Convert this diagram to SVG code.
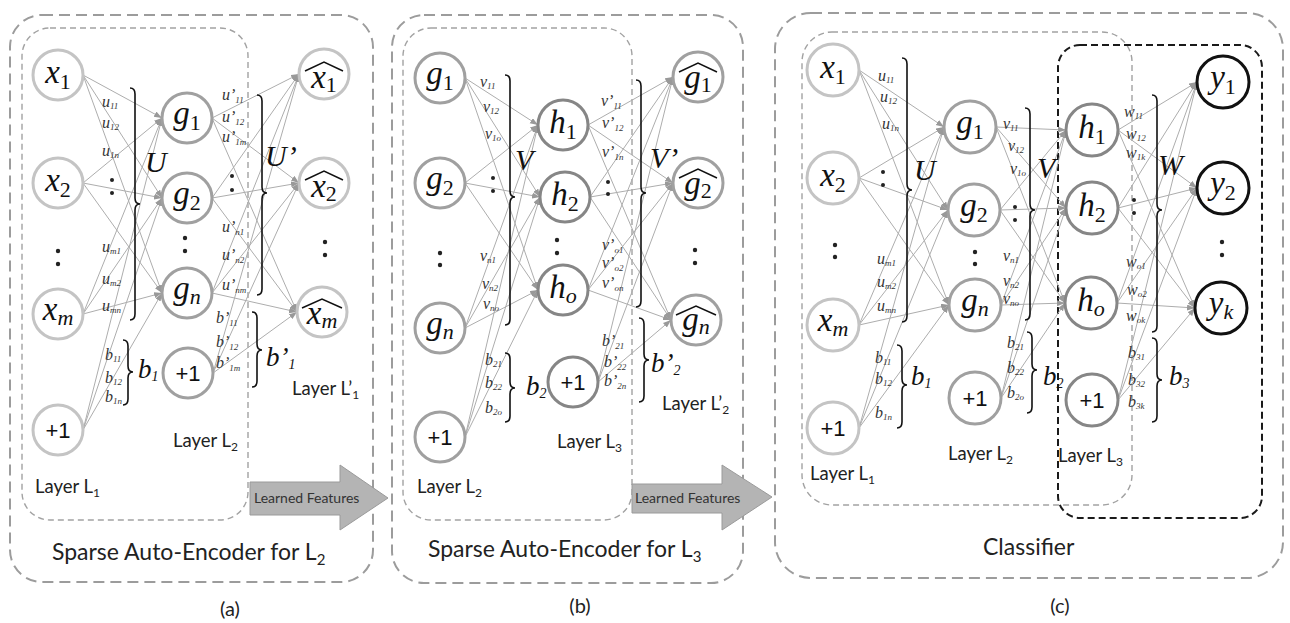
<svg xmlns="http://www.w3.org/2000/svg" width="1290" height="623" viewBox="0 0 1290 623">
<style>
  .ob{fill:none;stroke:#9c9c9c;stroke-width:2;stroke-dasharray:11 6}
  .ib{fill:none;stroke:#a2a2a2;stroke-width:1.4;stroke-dasharray:6 4}
  .kb{fill:none;stroke:#1a1a1a;stroke-width:2;stroke-dasharray:7 4}
  .e line{stroke:#adadad;stroke-width:1;marker-end:url(#ah)}
  circle.n1{fill:#fff;stroke:#c4c4c4;stroke-width:3}
  circle.n2{fill:#fff;stroke:#a0a0a0;stroke-width:3}
  circle.n3{fill:#fff;stroke:#868686;stroke-width:3}
  circle.n4{fill:#fff;stroke:#111;stroke-width:3}
  .nl{font-family:"Liberation Serif",serif;font-style:italic;font-size:33px;fill:#111;text-anchor:middle}
  .nl .s{font-style:normal;font-size:22px}
  .nl .t{font-size:22px}
  .one{font-family:"Liberation Sans",Arial,sans-serif;font-size:22px;fill:#111;text-anchor:middle}
  .w{font-family:"Liberation Serif",serif;font-style:italic;font-size:16px;fill:#333}
  .w .s{font-size:9px}
  .big{font-family:"Liberation Serif",serif;font-style:italic;font-size:30px;fill:#111}
  .bb{font-family:"Liberation Serif",serif;font-style:italic;font-size:27px;fill:#111}
  .bb .s{font-size:14px}
  .ly{font-family:Lato,"Liberation Sans",sans-serif;font-size:18.5px;fill:#222}
  .ly .s{font-size:12px}
  .cap{font-family:Lato,"Liberation Sans",sans-serif;font-size:23px;fill:#222}
  .cap .s{font-size:15px}
  .pl{font-family:Lato,"Liberation Sans",sans-serif;font-size:20px;fill:#222;text-anchor:middle}
  .lf{font-family:Lato,"Liberation Sans",sans-serif;font-size:14px;fill:#333}
  .arr{fill:#b4b4b4;stroke:#9a9a9a;stroke-width:1}
  .dot{fill:#222}
  .br{fill:none;stroke:#111;stroke-width:1.6}
  .hat{fill:none;stroke:#111;stroke-width:1.5}
</style>
<defs>
  <marker id="ah" markerUnits="userSpaceOnUse" markerWidth="9" markerHeight="7" refX="8" refY="3" orient="auto">
    <path d="M0,0 L8,3 L0,6 z" fill="#999"/>
  </marker>
</defs>

<!-- dashed frames -->
<g id="frames">
  <rect class="ob" x="10" y="15" width="363" height="567" rx="32"/>
  <rect class="ib" x="22" y="28" width="226" height="492" rx="28"/>
  <rect class="ob" x="392" y="15" width="351" height="568" rx="32"/>
  <rect class="ib" x="403" y="28" width="229" height="492" rx="28"/>
  <rect class="ob" x="775" y="13" width="508" height="565" rx="36"/>
  <rect class="ib" x="802" y="32" width="330" height="473" rx="30"/>
  <rect class="kb" x="1058" y="45" width="204" height="473" rx="22"/>
</g>

<!-- connectors -->
<g id="connectors" class="e">
  <!-- (a) L1 -> L2 -->
  <line x1="83" y1="75" x2="162" y2="118"/><line x1="83" y1="75" x2="162" y2="198"/><line x1="83" y1="75" x2="162" y2="293"/>
  <line x1="83" y1="183" x2="162" y2="118"/><line x1="83" y1="183" x2="162" y2="198"/><line x1="83" y1="183" x2="162" y2="293"/>
  <line x1="83" y1="314" x2="162" y2="118"/><line x1="83" y1="314" x2="162" y2="198"/><line x1="83" y1="314" x2="162" y2="293"/>
  <line x1="83" y1="430" x2="162" y2="118"/><line x1="83" y1="430" x2="162" y2="198"/><line x1="83" y1="430" x2="162" y2="293"/>
  <!-- (a) L2 -> L'1 -->
  <line x1="212" y1="118" x2="299" y2="74"/><line x1="212" y1="118" x2="299" y2="183"/><line x1="212" y1="118" x2="297" y2="312"/>
  <line x1="212" y1="198" x2="299" y2="74"/><line x1="212" y1="198" x2="299" y2="183"/><line x1="212" y1="198" x2="297" y2="312"/>
  <line x1="212" y1="293" x2="299" y2="74"/><line x1="212" y1="293" x2="299" y2="183"/><line x1="212" y1="293" x2="297" y2="312"/>
  <line x1="213" y1="373" x2="299" y2="74"/><line x1="213" y1="373" x2="299" y2="183"/><line x1="213" y1="373" x2="297" y2="312"/>
  <!-- (b) L2 -> L3 -->
  <line x1="465" y1="78" x2="538" y2="125"/><line x1="465" y1="78" x2="540" y2="197"/><line x1="465" y1="78" x2="538" y2="290"/>
  <line x1="465" y1="183" x2="538" y2="125"/><line x1="465" y1="183" x2="540" y2="197"/><line x1="465" y1="183" x2="538" y2="290"/>
  <line x1="465" y1="328" x2="538" y2="125"/><line x1="465" y1="328" x2="540" y2="197"/><line x1="465" y1="328" x2="538" y2="290"/>
  <line x1="465" y1="437" x2="538" y2="125"/><line x1="465" y1="437" x2="540" y2="197"/><line x1="465" y1="437" x2="538" y2="290"/>
  <!-- (b) L3 -> L'2 -->
  <line x1="588" y1="125" x2="673" y2="77"/><line x1="588" y1="125" x2="673" y2="183"/><line x1="588" y1="125" x2="671" y2="320"/>
  <line x1="590" y1="197" x2="673" y2="77"/><line x1="590" y1="197" x2="673" y2="183"/><line x1="590" y1="197" x2="671" y2="320"/>
  <line x1="588" y1="290" x2="673" y2="77"/><line x1="588" y1="290" x2="673" y2="183"/><line x1="588" y1="290" x2="671" y2="320"/>
  <line x1="598" y1="382" x2="673" y2="77"/><line x1="598" y1="382" x2="673" y2="183"/><line x1="598" y1="382" x2="671" y2="320"/>
  <!-- (c) L1 -> L2 -->
  <line x1="859" y1="70" x2="944" y2="127"/><line x1="859" y1="70" x2="948" y2="210"/><line x1="859" y1="70" x2="949" y2="305"/>
  <line x1="859" y1="178" x2="944" y2="127"/><line x1="859" y1="178" x2="948" y2="210"/><line x1="859" y1="178" x2="949" y2="305"/>
  <line x1="859" y1="325" x2="944" y2="127"/><line x1="859" y1="325" x2="948" y2="210"/><line x1="859" y1="325" x2="949" y2="305"/>
  <line x1="859" y1="428" x2="944" y2="127"/><line x1="859" y1="428" x2="948" y2="210"/><line x1="859" y1="428" x2="949" y2="305"/>
  <!-- (c) L2 -> L3 -->
  <line x1="996" y1="127" x2="1066" y2="130"/><line x1="996" y1="127" x2="1066" y2="208"/><line x1="996" y1="127" x2="1065" y2="303"/>
  <line x1="1000" y1="210" x2="1066" y2="130"/><line x1="1000" y1="210" x2="1066" y2="208"/><line x1="1000" y1="210" x2="1065" y2="303"/>
  <line x1="1001" y1="305" x2="1066" y2="130"/><line x1="1001" y1="305" x2="1066" y2="208"/><line x1="1001" y1="305" x2="1065" y2="303"/>
  <line x1="1001" y1="398" x2="1066" y2="130"/><line x1="1001" y1="398" x2="1066" y2="208"/><line x1="1001" y1="398" x2="1065" y2="303"/>
  <!-- (c) L3 -> output -->
  <line x1="1118" y1="130" x2="1197" y2="82"/><line x1="1118" y1="130" x2="1197" y2="188"/><line x1="1118" y1="130" x2="1195" y2="308"/>
  <line x1="1118" y1="208" x2="1197" y2="82"/><line x1="1118" y1="208" x2="1197" y2="188"/><line x1="1118" y1="208" x2="1195" y2="308"/>
  <line x1="1117" y1="303" x2="1197" y2="82"/><line x1="1117" y1="303" x2="1197" y2="188"/><line x1="1117" y1="303" x2="1195" y2="308"/>
  <line x1="1118" y1="400" x2="1197" y2="82"/><line x1="1118" y1="400" x2="1197" y2="188"/><line x1="1118" y1="400" x2="1195" y2="308"/>
</g>

<!-- learned-feature arrows -->
<g id="arrow-a">
  <polygon class="arr" points="250,482 340,482 340,465 388,498 340,530 340,515 250,515"/>
  <text class="lf" x="254" y="503">Learned Features</text>
</g>
<g id="arrow-b">
  <polygon class="arr" points="632,484 722,484 722,465 772,497 722,530 722,513 632,513"/>
  <text class="lf" x="635" y="503">Learned Features</text>
</g>

<!-- panel (a) nodes -->
<g id="a-x1"><circle class="n1" cx="58" cy="75" r="25"/><text class="nl" x="58" y="83">x<tspan class="s" dy="6">1</tspan></text></g>
<g id="a-x2"><circle class="n1" cx="58" cy="183" r="25"/><text class="nl" x="58" y="191">x<tspan class="s" dy="6">2</tspan></text></g>
<g id="a-xm"><circle class="n1" cx="58" cy="314" r="25"/><text class="nl" x="58" y="320">x<tspan class="t" dy="5">m</tspan></text></g>
<g id="a-b1"><circle class="n1" cx="58" cy="430" r="25"/><text class="one" x="58" y="438">+1</text></g>
<g id="a-g1"><circle class="n2" cx="187" cy="118" r="25"/><text class="nl" x="187" y="124">g<tspan class="s" dy="6">1</tspan></text></g>
<g id="a-g2"><circle class="n2" cx="187" cy="198" r="25"/><text class="nl" x="187" y="204">g<tspan class="s" dy="6">2</tspan></text></g>
<g id="a-gn"><circle class="n2" cx="187" cy="293" r="25"/><text class="nl" x="187" y="299">g<tspan class="t" dy="5">n</tspan></text></g>
<g id="a-b2"><circle class="n2" cx="188" cy="373" r="25"/><text class="one" x="188" y="381">+1</text></g>
<g id="a-r1"><circle class="n1" cx="324" cy="74" r="25"/><text class="nl" x="324" y="88">x<tspan class="s" dy="4">1</tspan></text><path class="hat" d="M305,71 L324,62 L343,71"/></g>
<g id="a-r2"><circle class="n1" cx="324" cy="183" r="25"/><text class="nl" x="324" y="197">x<tspan class="s" dy="4">2</tspan></text><path class="hat" d="M305,180 L324,171 L343,180"/></g>
<g id="a-rm"><circle class="n1" cx="322" cy="312" r="25"/><text class="nl" x="322" y="324">x<tspan class="t" dy="4">m</tspan></text><path class="hat" d="M302,308 L322,299 L342,308"/></g>

<!-- panel (b) nodes -->
<g id="b-g1"><circle class="n2" cx="440" cy="78" r="25"/><text class="nl" x="440" y="84">g<tspan class="s" dy="6">1</tspan></text></g>
<g id="b-g2"><circle class="n2" cx="440" cy="183" r="25"/><text class="nl" x="440" y="189">g<tspan class="s" dy="6">2</tspan></text></g>
<g id="b-gn"><circle class="n2" cx="440" cy="328" r="25"/><text class="nl" x="440" y="334">g<tspan class="t" dy="5">n</tspan></text></g>
<g id="b-b1"><circle class="n2" cx="440" cy="437" r="25"/><text class="one" x="440" y="445">+1</text></g>
<g id="b-h1"><circle class="n3" cx="563" cy="125" r="25"/><text class="nl" x="563" y="133">h<tspan class="s" dy="6">1</tspan></text></g>
<g id="b-h2"><circle class="n3" cx="565" cy="197" r="25"/><text class="nl" x="565" y="205">h<tspan class="s" dy="6">2</tspan></text></g>
<g id="b-ho"><circle class="n3" cx="563" cy="290" r="25"/><text class="nl" x="563" y="298">h<tspan class="t" dy="5">o</tspan></text></g>
<g id="b-b2"><circle class="n3" cx="573" cy="382" r="25"/><text class="one" x="573" y="390">+1</text></g>
<g id="b-r1"><circle class="n2" cx="698" cy="77" r="25"/><text class="nl" x="698" y="88">g<tspan class="s" dy="4">1</tspan></text><path class="hat" d="M679,72 L698,63 L717,72"/></g>
<g id="b-r2"><circle class="n2" cx="698" cy="183" r="25"/><text class="nl" x="698" y="194">g<tspan class="s" dy="4">2</tspan></text><path class="hat" d="M679,178 L698,169 L717,178"/></g>
<g id="b-rn"><circle class="n2" cx="696" cy="320" r="25"/><text class="nl" x="696" y="330">g<tspan class="t" dy="4">n</tspan></text><path class="hat" d="M676,315 L696,306 L716,315"/></g>

<!-- panel (c) nodes -->
<g id="c-x1"><circle class="n1" cx="833" cy="70" r="26"/><text class="nl" x="833" y="78">x<tspan class="s" dy="6">1</tspan></text></g>
<g id="c-x2"><circle class="n1" cx="833" cy="178" r="26"/><text class="nl" x="833" y="186">x<tspan class="s" dy="6">2</tspan></text></g>
<g id="c-xm"><circle class="n1" cx="833" cy="325" r="26"/><text class="nl" x="833" y="331">x<tspan class="t" dy="5">m</tspan></text></g>
<g id="c-b1"><circle class="n1" cx="833" cy="428" r="26"/><text class="one" x="833" y="436">+1</text></g>
<g id="c-g1"><circle class="n2" cx="970" cy="127" r="26"/><text class="nl" x="970" y="133">g<tspan class="s" dy="6">1</tspan></text></g>
<g id="c-g2"><circle class="n2" cx="974" cy="210" r="26"/><text class="nl" x="974" y="216">g<tspan class="s" dy="6">2</tspan></text></g>
<g id="c-gn"><circle class="n2" cx="975" cy="305" r="26"/><text class="nl" x="975" y="311">g<tspan class="t" dy="5">n</tspan></text></g>
<g id="c-b2"><circle class="n2" cx="975" cy="398" r="26"/><text class="one" x="975" y="406">+1</text></g>
<g id="c-h1"><circle class="n3" cx="1092" cy="130" r="26"/><text class="nl" x="1092" y="138">h<tspan class="s" dy="6">1</tspan></text></g>
<g id="c-h2"><circle class="n3" cx="1092" cy="208" r="26"/><text class="nl" x="1092" y="216">h<tspan class="s" dy="6">2</tspan></text></g>
<g id="c-ho"><circle class="n3" cx="1091" cy="303" r="26"/><text class="nl" x="1091" y="311">h<tspan class="t" dy="5">o</tspan></text></g>
<g id="c-b3"><circle class="n3" cx="1092" cy="400" r="26"/><text class="one" x="1092" y="408">+1</text></g>
<g id="c-y1"><circle class="n4" cx="1223" cy="82" r="26"/><text class="nl" x="1223" y="88">y<tspan class="s" dy="6">1</tspan></text></g>
<g id="c-y2"><circle class="n4" cx="1223" cy="188" r="26"/><text class="nl" x="1223" y="194">y<tspan class="s" dy="6">2</tspan></text></g>
<g id="c-yk"><circle class="n4" cx="1221" cy="308" r="26"/><text class="nl" x="1221" y="314">y<tspan class="t" dy="5">k</tspan></text></g>

<!-- vertical ellipses between nodes -->
<g id="ellipses" class="dot">
  <circle cx="58" cy="251" r="2.2"/><circle cx="58" cy="264" r="2.2"/>
  <circle cx="185" cy="238" r="2.2"/><circle cx="185" cy="251" r="2.2"/>
  <circle cx="325" cy="242" r="2.2"/><circle cx="325" cy="255" r="2.2"/>
  <circle cx="112" cy="180" r="2"/><circle cx="112" cy="193" r="2"/>
  <circle cx="232" cy="176" r="2"/><circle cx="232" cy="190" r="2"/>
  <circle cx="440" cy="253" r="2.2"/><circle cx="440" cy="265" r="2.2"/>
  <circle cx="557" cy="240" r="2.2"/><circle cx="557" cy="253" r="2.2"/>
  <circle cx="695" cy="250" r="2.2"/><circle cx="695" cy="263" r="2.2"/>
  <circle cx="493" cy="178" r="2"/><circle cx="493" cy="191" r="2"/>
  <circle cx="608" cy="182" r="2"/><circle cx="608" cy="194" r="2"/>
  <circle cx="835" cy="245" r="2.2"/><circle cx="835" cy="257" r="2.2"/>
  <circle cx="975" cy="252" r="2.2"/><circle cx="975" cy="264" r="2.2"/>
  <circle cx="1222" cy="242" r="2.2"/><circle cx="1222" cy="255" r="2.2"/>
  <circle cx="883" cy="172" r="2"/><circle cx="883" cy="185" r="2"/>
  <circle cx="1015" cy="207" r="2"/><circle cx="1015" cy="220" r="2"/>
  <circle cx="1134" cy="200" r="2"/><circle cx="1134" cy="213" r="2"/>
</g>

<!-- braces grouping weights -->
<g id="braces" class="br">
  <path d="M130,88 Q135,88 135,94 L135,198 Q135,204 140,204 Q135,204 135,210 L135,314 Q135,320 130,320"/>
  <path d="M257,95 Q262,95 262,101 L262,187 Q262,193 267,193 Q262,193 262,199 L262,289 Q262,295 257,295"/>
  <path d="M123,340 Q128,340 128,346 L128,366 Q128,372 133,372 Q128,372 128,378 L128,399 Q128,405 123,405"/>
  <path d="M252,312 Q257,312 257,318 L257,344 Q257,350 262,350 Q257,350 257,356 L257,381 Q257,387 252,387"/>
  <path d="M505,75 Q510,75 510,81 L510,191 Q510,197 515,197 Q510,197 510,203 L510,319 Q510,325 505,325"/>
  <path d="M636,80 Q641,80 641,86 L641,187 Q641,193 646,193 Q641,193 641,199 L641,301 Q641,307 636,307"/>
  <path d="M505,353 Q510,353 510,359 L510,382 Q510,388 515,388 Q510,388 510,394 L510,416 Q510,422 505,422"/>
  <path d="M639,318 Q644,318 644,324 L644,354 Q644,360 649,360 Q644,360 644,366 L644,396 Q644,402 639,402"/>
  <path d="M902,58 Q907,58 907,64 L907,184 Q907,190 912,190 Q907,190 907,196 L907,316 Q907,322 902,322"/>
  <path d="M1025,108 Q1030,108 1030,114 L1030,204 Q1030,210 1035,210 Q1030,210 1030,216 L1030,314 Q1030,320 1025,320"/>
  <path d="M1152,95 Q1157,95 1157,101 L1157,204 Q1157,210 1162,210 Q1157,210 1157,216 L1157,326 Q1157,332 1152,332"/>
  <path d="M897,345 Q902,345 902,351 L902,379 Q902,385 907,385 Q902,385 902,391 L902,422 Q902,428 897,428"/>
  <path d="M1027,332 Q1032,332 1032,338 L1032,364 Q1032,370 1037,370 Q1032,370 1032,376 L1032,407 Q1032,413 1027,413"/>
  <path d="M1152,338 Q1157,338 1157,344 L1157,374 Q1157,380 1162,380 Q1157,380 1157,386 L1157,416 Q1157,422 1152,422"/>
</g>

<!-- weight labels -->
<g id="weights" class="w">
  <text x="102" y="107">u<tspan class="s" dy="2">11</tspan></text>
  <text x="102" y="128">u<tspan class="s" dy="2">12</tspan></text>
  <text x="102" y="156">u<tspan class="s" dy="2">1n</tspan></text>
  <text x="102" y="252">u<tspan class="s" dy="2">m1</tspan></text>
  <text x="102" y="284">u<tspan class="s" dy="2">m2</tspan></text>
  <text x="102" y="311">u<tspan class="s" dy="2">mn</tspan></text>
  <text x="105" y="360">b<tspan class="s" dy="2">11</tspan></text>
  <text x="105" y="383">b<tspan class="s" dy="2">12</tspan></text>
  <text x="105" y="402">b<tspan class="s" dy="2">1n</tspan></text>
  <text x="222" y="100">u’<tspan class="s" dy="3">11</tspan></text>
  <text x="222" y="122">u’<tspan class="s" dy="3">12</tspan></text>
  <text x="222" y="142">u’<tspan class="s" dy="3">1m</tspan></text>
  <text x="222" y="232">u’<tspan class="s" dy="3">n1</tspan></text>
  <text x="222" y="260">u’<tspan class="s" dy="3">n2</tspan></text>
  <text x="222" y="290">u’<tspan class="s" dy="3">nm</tspan></text>
  <text x="216" y="323">b’<tspan class="s" dy="3">11</tspan></text>
  <text x="216" y="347">b’<tspan class="s" dy="3">12</tspan></text>
  <text x="216" y="368">b’<tspan class="s" dy="3">1m</tspan></text>

  <text x="480" y="87">v<tspan class="s" dy="2">11</tspan></text>
  <text x="483" y="112">v<tspan class="s" dy="2">12</tspan></text>
  <text x="485" y="139">v<tspan class="s" dy="2">1o</tspan></text>
  <text x="480" y="261">v<tspan class="s" dy="2">n1</tspan></text>
  <text x="482" y="289">v<tspan class="s" dy="2">n2</tspan></text>
  <text x="483" y="309">v<tspan class="s" dy="2">no</tspan></text>
  <text x="485" y="365">b<tspan class="s" dy="2">21</tspan></text>
  <text x="485" y="388">b<tspan class="s" dy="2">22</tspan></text>
  <text x="485" y="413">b<tspan class="s" dy="2">2o</tspan></text>
  <text x="601" y="106">v’<tspan class="s" dy="3">11</tspan></text>
  <text x="602" y="128">v’<tspan class="s" dy="3">12</tspan></text>
  <text x="602" y="157">v’<tspan class="s" dy="3">1n</tspan></text>
  <text x="602" y="250">v’<tspan class="s" dy="3">o1</tspan></text>
  <text x="602" y="268">v’<tspan class="s" dy="3">o2</tspan></text>
  <text x="602" y="288">v’<tspan class="s" dy="3">on</tspan></text>
  <text x="602" y="346">b’<tspan class="s" dy="3">21</tspan></text>
  <text x="604" y="367">b’<tspan class="s" dy="3">22</tspan></text>
  <text x="604" y="386">b’<tspan class="s" dy="3">2n</tspan></text>

  <text x="878" y="81">u<tspan class="s" dy="2">11</tspan></text>
  <text x="880" y="102">u<tspan class="s" dy="2">12</tspan></text>
  <text x="882" y="129">u<tspan class="s" dy="2">1n</tspan></text>
  <text x="877" y="264">u<tspan class="s" dy="2">m1</tspan></text>
  <text x="877" y="287">u<tspan class="s" dy="2">m2</tspan></text>
  <text x="877" y="311">u<tspan class="s" dy="2">mn</tspan></text>
  <text x="875" y="363">b<tspan class="s" dy="2">11</tspan></text>
  <text x="875" y="384">b<tspan class="s" dy="2">12</tspan></text>
  <text x="875" y="418">b<tspan class="s" dy="2">1n</tspan></text>
  <text x="1003" y="129">v<tspan class="s" dy="2">11</tspan></text>
  <text x="1008" y="151">v<tspan class="s" dy="2">12</tspan></text>
  <text x="1010" y="174">v<tspan class="s" dy="2">1o</tspan></text>
  <text x="1003" y="261">v<tspan class="s" dy="2">n1</tspan></text>
  <text x="1003" y="286">v<tspan class="s" dy="2">n2</tspan></text>
  <text x="1003" y="304">v<tspan class="s" dy="2">no</tspan></text>
  <text x="1007" y="348">b<tspan class="s" dy="2">21</tspan></text>
  <text x="1007" y="373">b<tspan class="s" dy="2">22</tspan></text>
  <text x="1007" y="398">b<tspan class="s" dy="2">2o</tspan></text>
  <text x="1124" y="117">w<tspan class="s" dy="2">11</tspan></text>
  <text x="1126" y="139">w<tspan class="s" dy="2">12</tspan></text>
  <text x="1126" y="158">w<tspan class="s" dy="2">1k</tspan></text>
  <text x="1126" y="267">w<tspan class="s" dy="2">o1</tspan></text>
  <text x="1127" y="295">w<tspan class="s" dy="2">o2</tspan></text>
  <text x="1126" y="321">w<tspan class="s" dy="2">ok</tspan></text>
  <text x="1128" y="358">b<tspan class="s" dy="2">31</tspan></text>
  <text x="1128" y="385">b<tspan class="s" dy="2">32</tspan></text>
  <text x="1128" y="407">b<tspan class="s" dy="2">3k</tspan></text>
</g>

<!-- matrix and bias names -->
<g id="matrix-names">
  <text class="big" x="145" y="172">U</text>
  <text class="big" x="265" y="166">U’</text>
  <text class="big" x="515" y="170">V</text>
  <text class="big" x="650" y="168">V’</text>
  <text class="big" x="914" y="180">U</text>
  <text class="big" x="1037" y="178">V</text>
  <text class="big" x="1158" y="175">W</text>
  <text class="bb" x="138" y="378">b<tspan class="s" dy="3">1</tspan></text>
  <text class="bb" x="266" y="366">b’<tspan class="s" dy="3">1</tspan></text>
  <text class="bb" x="526" y="395">b<tspan class="s" dy="3">2</tspan></text>
  <text class="bb" x="651" y="372">b’<tspan class="s" dy="3">2</tspan></text>
  <text class="bb" x="911" y="385">b<tspan class="s" dy="3">1</tspan></text>
  <text class="bb" x="1043" y="385">b<tspan class="s" dy="3">2</tspan></text>
  <text class="bb" x="1169" y="385">b<tspan class="s" dy="3">3</tspan></text>
</g>

<!-- layer names and captions -->
<g id="captions">
  <text class="ly" x="35" y="493">Layer L<tspan class="s" dy="4">1</tspan></text>
  <text class="ly" x="173" y="447">Layer L<tspan class="s" dy="4">2</tspan></text>
  <text class="ly" x="292" y="395">Layer L’<tspan class="s" dy="4">1</tspan></text>
  <text class="ly" x="417" y="493">Layer L<tspan class="s" dy="4">2</tspan></text>
  <text class="ly" x="557" y="448">Layer L<tspan class="s" dy="4">3</tspan></text>
  <text class="ly" x="662" y="410">Layer L’<tspan class="s" dy="4">2</tspan></text>
  <text class="ly" x="810" y="480">Layer L<tspan class="s" dy="4">1</tspan></text>
  <text class="ly" x="948" y="460">Layer L<tspan class="s" dy="4">2</tspan></text>
  <text class="ly" x="1058" y="462">Layer L<tspan class="s" dy="4">3</tspan></text>
  <text class="cap" x="52" y="560">Sparse Auto-Encoder for L<tspan class="s" dy="5">2</tspan></text>
  <text class="cap" x="428" y="557">Sparse Auto-Encoder for L<tspan class="s" dy="5">3</tspan></text>
  <text class="cap" x="983" y="555">Classifier</text>
  <text class="pl" x="230" y="616">(a)</text>
  <text class="pl" x="580" y="613">(b)</text>
  <text class="pl" x="1060" y="613">(c)</text>
</g>
</svg>
